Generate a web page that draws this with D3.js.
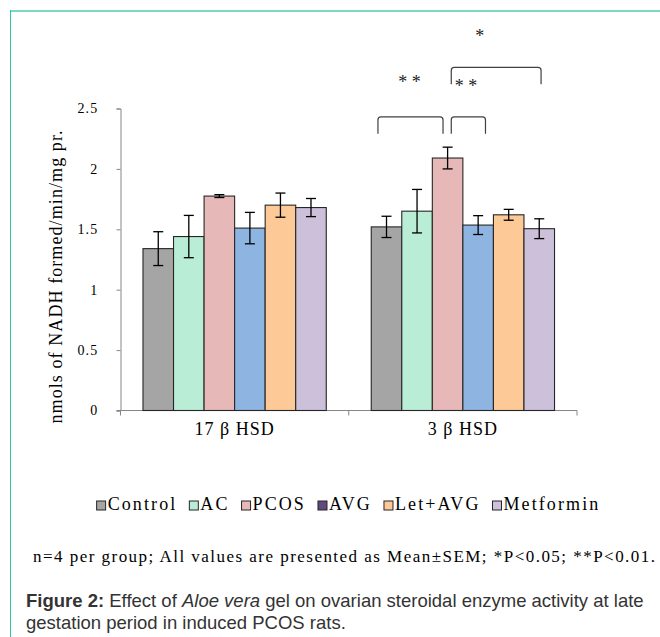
<!DOCTYPE html>
<html>
<head>
<meta charset="utf-8">
<script src="https://cdn.jsdelivr.net/npm/d3@7"></script>
<style>
  body { margin: 0; background: #fff; }
  svg { display: block; }
  .serif { font-family: "Liberation Serif", "DejaVu Serif", serif; }
  .sans { font-family: "Liberation Sans", Arial, sans-serif; }
</style>
</head>
<body>
<svg width="660" height="637"></svg>
<script>
var enzymes = ["17 β HSD", "3 β HSD"];
var groups = ["Control", "AC", "PCOS", "AVG", "Let+AVG", "Metformin"];

// mean values per enzyme (order follows groups)
var means17 = [1.34, 1.44, 1.775, 1.51, 1.70, 1.68];
var means3  = [1.52, 1.65, 2.09, 1.535, 1.62, 1.505];
// SEM per enzyme
var sem17 = [0.14, 0.175, 0.012, 0.13, 0.10, 0.075];
var sem3  = [0.088, 0.18, 0.09, 0.078, 0.045, 0.082];

var yTicks = [0, 0.5, 1, 1.5, 2, 2.5];

var barColors    = ["#a5a5a5", "#b9edd5", "#e6b8b7", "#8eb4e2", "#fcc997", "#ccc0da"];
var legendColors = ["#a5a5a5", "#b9edd5", "#e6b8b7", "#604a7b", "#fcc997", "#ccc0da"];

// significance brackets on 3 β HSD, ends in bar units (0 = left edge of first bar)
var bracketFrom  = [0.22, 2.62, 2.62];
var bracketTo    = [2.35, 3.74, 5.56];
var bracketTop   = [2.43, 2.43, 2.84];
var bracketFoot  = [2.29, 2.29, 2.70];
var starLabels   = ["* *", "* *", "*"];
var starX        = [1.25, 3.1, 3.55];
var starY        = [2.72, 2.69, 3.1];

var meanRows = [means17, means3];
var semRows = [sem17, sem3];

var svg = d3.select("svg");

// frame lines of the page
svg.append("line")
  .attr("x1", 10).attr("x2", 660).attr("y1", 11).attr("y2", 11)
  .attr("stroke", "#7fd8c6").attr("stroke-width", 2);
svg.append("line")
  .attr("x1", 10.5).attr("x2", 10.5).attr("y1", 10).attr("y2", 637)
  .attr("stroke", "#2cc9ad").attr("stroke-width", 1);

var plotLeft = 120.5, plotRight = 577, plotTop = 108.5, plotBottom = 410.5;

var yScale = d3.scaleLinear().domain([0, 2.5]).range([plotBottom, plotTop]);

var x0 = d3.scaleBand()
  .domain(enzymes)
  .range([plotLeft, plotRight])
  .paddingInner(0.197)
  .paddingOuter(0.0985);

var x1 = d3.scaleBand()
  .domain(groups)
  .range([0, x0.bandwidth()])
  .padding(0);

var slot = function(enzyme, pos) {
  return x0(enzyme) + pos * x1.bandwidth();
};

// y axis
var yAxis = d3.axisLeft(yScale)
  .tickValues(yTicks)
  .tickSize(4)
  .tickPadding(18)
  .tickFormat(d3.format("~g"));

var yGroup = svg.append("g")
  .attr("transform", "translate(" + plotLeft + ",0)")
  .call(yAxis);
yGroup.attr("font-family", null).attr("font-size", null);
yGroup.select(".domain").attr("stroke", "#868686");
yGroup.selectAll(".tick line").attr("stroke", "#868686");
yGroup.selectAll("text")
  .attr("class", "serif")
  .style("font-size", "14px")
  .style("letter-spacing", "1.2px")
  .attr("fill", "#000");

// x axis line with ticks between categories
svg.append("line")
  .attr("x1", plotLeft - 4).attr("x2", plotRight)
  .attr("y1", plotBottom).attr("y2", plotBottom)
  .attr("stroke", "#868686");
svg.selectAll("line.xtick")
  .data([plotLeft, (plotLeft + plotRight) / 2, plotRight])
  .enter().append("line")
  .attr("class", "xtick")
  .attr("x1", function(d) { return d; })
  .attr("x2", function(d) { return d; })
  .attr("y1", plotBottom).attr("y2", plotBottom + 5)
  .attr("stroke", "#868686");

svg.selectAll("text.cat")
  .data(enzymes)
  .enter().append("text")
  .attr("class", "cat serif")
  .attr("x", function(d) { return x0(d) + x0.bandwidth() / 2; })
  .attr("y", 435)
  .attr("text-anchor", "middle")
  .style("font-size", "18px")
  .style("letter-spacing", "1px")
  .text(function(d) { return d; });

// bars
enzymes.forEach(function(enzyme, ei) {
  var g = svg.append("g").attr("transform", "translate(" + x0(enzyme) + ",0)");
  var rows = groups.map(function(grp, gi) {
    return { group: grp, mean: meanRows[ei][gi], sem: semRows[ei][gi], color: barColors[gi] };
  });

  g.selectAll("rect")
    .data(rows)
    .enter().append("rect")
    .attr("x", function(d) { return x1(d.group); })
    .attr("y", function(d) { return yScale(d.mean); })
    .attr("width", x1.bandwidth())
    .attr("height", function(d) { return plotBottom - yScale(d.mean); })
    .attr("fill", function(d) { return d.color; })
    .attr("stroke", "#262626")
    .attr("stroke-width", 1.1);

  var err = g.selectAll("g.err")
    .data(rows)
    .enter().append("g")
    .attr("class", "err")
    .attr("stroke", "#000")
    .attr("stroke-width", 1.3);

  var cx = function(d) { return x1(d.group) + x1.bandwidth() / 2; };
  err.append("line")
    .attr("x1", cx).attr("x2", cx)
    .attr("y1", function(d) { return yScale(d.mean + d.sem); })
    .attr("y2", function(d) { return yScale(d.mean - d.sem); });
  err.append("line")
    .attr("x1", function(d) { return cx(d) - 5; })
    .attr("x2", function(d) { return cx(d) + 5; })
    .attr("y1", function(d) { return yScale(d.mean + d.sem); })
    .attr("y2", function(d) { return yScale(d.mean + d.sem); });
  err.append("line")
    .attr("x1", function(d) { return cx(d) - 5; })
    .attr("x2", function(d) { return cx(d) + 5; })
    .attr("y1", function(d) { return yScale(d.mean - d.sem); })
    .attr("y2", function(d) { return yScale(d.mean - d.sem); });
});

// significance brackets
var r = 3;
bracketFrom.forEach(function(f, i) {
  var xa = slot("3 β HSD", f);
  var xb = slot("3 β HSD", bracketTo[i]);
  var yt = yScale(bracketTop[i]);
  var yf = yScale(bracketFoot[i]);
  var p = d3.path();
  p.moveTo(xa, yf);
  p.lineTo(xa, yt + r);
  p.quadraticCurveTo(xa, yt, xa + r, yt);
  p.lineTo(xb - r, yt);
  p.quadraticCurveTo(xb, yt, xb, yt + r);
  p.lineTo(xb, yf);
  svg.append("path")
    .attr("d", p.toString())
    .attr("fill", "none")
    .attr("stroke", "#404040")
    .attr("stroke-width", 1.2);
});

svg.selectAll("text.star")
  .data(starLabels)
  .enter().append("text")
  .attr("class", "star serif")
  .attr("x", function(d, i) { return slot("3 β HSD", starX[i]); })
  .attr("y", function(d, i) { return yScale(starY[i]); })
  .attr("text-anchor", "middle")
  .attr("dominant-baseline", "central")
  .style("font-size", "18px")
  .attr("fill", "#222")
  .text(function(d) { return d; });

// y axis title
svg.append("text")
  .attr("class", "serif")
  .attr("transform", "translate(62,277) rotate(-90)")
  .attr("text-anchor", "middle")
  .attr("textLength", 293)
  .attr("lengthAdjust", "spacing")
  .style("font-size", "18px")
  .text("nmols of NADH formed/min/mg pr.");

// legend
var legend = svg.append("g");
var lx = 0;
var items = legend.selectAll("g.item")
  .data(groups)
  .enter().append("g")
  .attr("class", "item");

items.append("rect")
  .attr("y", -9)
  .attr("width", 9)
  .attr("height", 9)
  .attr("fill", function(d, i) { return legendColors[i]; })
  .attr("stroke", "#262626")
  .attr("stroke-width", 1);

items.append("text")
  .attr("class", "serif")
  .attr("x", 11)
  .attr("y", 0)
  .style("font-size", "18px")
  .style("letter-spacing", "2.1px")
  .text(function(d) { return d; });

items.each(function() {
  var it = d3.select(this);
  it.attr("transform", "translate(" + lx + ",0)");
  lx += 11 + it.select("text").node().getComputedTextLength() + 12;
});
legend.attr("transform", "translate(" + (91 + (515 - (lx - 12)) / 2) + ",510)");

// footnote
svg.append("text")
  .attr("class", "serif")
  .attr("x", 33)
  .attr("y", 562)
  .attr("textLength", 622)
  .attr("lengthAdjust", "spacing")
  .style("font-size", "17px")
  .text("n=4 per group; All values are presented as Mean\u00B1SEM; *P<0.05; **P<0.01.");

// caption
var cap = svg.append("text")
  .attr("class", "sans")
  .attr("x", 26)
  .attr("y", 607)
  .style("font-size", "18.5px")
  .attr("fill", "#333");
cap.append("tspan").style("font-weight", "bold").text("Figure 2:");
cap.append("tspan").text(" Effect of ");
cap.append("tspan").style("font-style", "italic").text("Aloe vera");
cap.append("tspan").text(" gel on ovarian steroidal enzyme activity at late");

svg.append("text")
  .attr("class", "sans")
  .attr("x", 26)
  .attr("y", 629)
  .style("font-size", "18.5px")
  .attr("fill", "#333")
  .text("gestation period in induced PCOS rats.");
</script>
</body>
</html>
